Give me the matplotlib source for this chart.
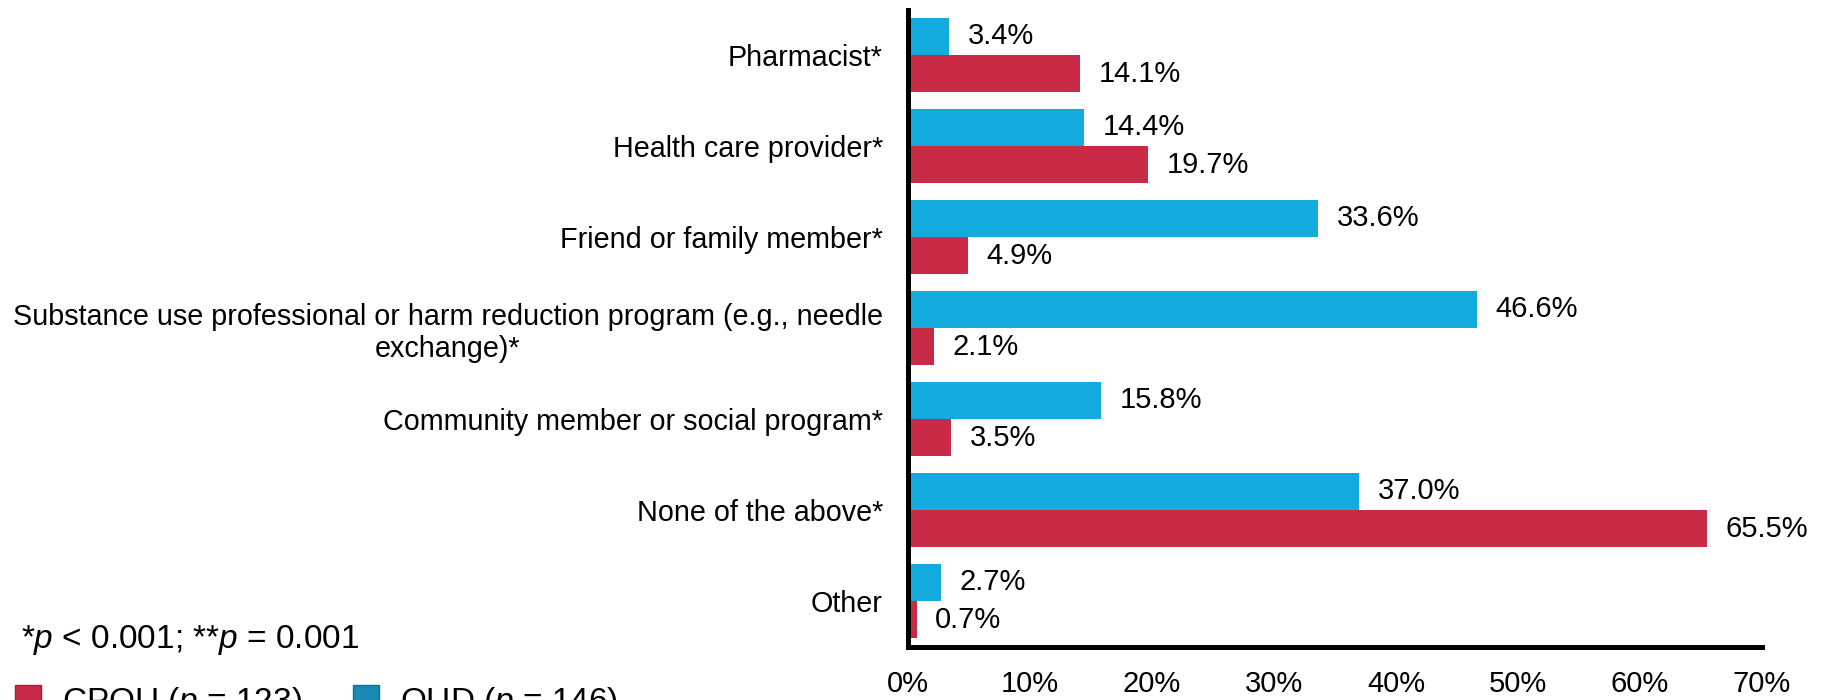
import matplotlib
matplotlib.use("Agg")
import matplotlib.pyplot as plt
import numpy as np
from matplotlib import font_manager
from matplotlib.patches import Rectangle

categories = [
    "Pharmacist*",
    "Health care provider*",
    "Friend or family member*",
    "Substance use professional or harm reduction program (e.g., needle\nexchange)*",
    "Community member or social program*",
    "None of the above*",
    "Other",
]
oud_values = [3.4, 14.4, 33.6, 46.6, 15.8, 37.0, 2.7]
cpou_values = [14.1, 19.7, 4.9, 2.1, 3.5, 65.5, 0.7]
xticks = [0, 10, 20, 30, 40, 50, 60, 70]
xtick_labels = ["0%", "10%", "20%", "30%", "40%", "50%", "60%", "70%"]
legend_labels = ["CPOU ($\\mathit{p}$ = 123)", "OUD ($\\mathit{p}$ = 146)"]
footnote = "*$\\mathit{p}$ < 0.001; **$\\mathit{p}$ = 0.001"

BLUE = "#13aadd"
RED = "#c92b46"

names = {f.name for f in font_manager.fontManager.ttflist}
base = "Liberation Sans" if "Liberation Sans" in names else "DejaVu Sans"
plt.rcParams["font.family"] = [base, "DejaVu Sans"]
plt.rcParams["mathtext.fontset"] = "custom"
plt.rcParams["mathtext.it"] = base + ":italic"
plt.rcParams["mathtext.rm"] = base

W, H = 1822, 700
fig = plt.figure(figsize=(W / 100, H / 100), dpi=100)
x0, x1, ytop, ybot = 908, 1762, 9.5, 646.5
ax = fig.add_axes([x0 / W, 1 - ybot / H, (x1 - x0) / W, (ybot - ytop) / H])

n = len(categories)
y = np.arange(n)
bh = 0.41
ax.barh(y - bh / 2, oud_values, height=bh, color=BLUE, edgecolor="none")
ax.barh(y + bh / 2, cpou_values, height=bh, color=RED, edgecolor="none")

fs = 21
for i, (b, r) in enumerate(zip(oud_values, cpou_values)):
    ax.annotate(f"{b:.1f}%", (b, i - bh / 2), xytext=(13.5, 0), textcoords="offset points",
                va="center", ha="left", fontsize=fs)
    ax.annotate(f"{r:.1f}%", (r, i + bh / 2), xytext=(13.5, 0), textcoords="offset points",
                va="center", ha="left", fontsize=fs)

ax.set_ylim(n - 0.5, -0.5)
ax.set_xlim(0, 70)
ax.set_yticks(y)
ax.set_yticklabels(categories, fontsize=20.7, multialignment="center")
ax.set_xticks(xticks)
ax.set_xticklabels(xtick_labels, fontsize=21)
ax.tick_params(axis="y", length=0, pad=18)
ax.tick_params(axis="x", length=0, pad=17)

for s in ["top", "right"]:
    ax.spines[s].set_visible(False)
for s in ["left", "bottom"]:
    ax.spines[s].set_linewidth(3.6)
    ax.spines[s].set_color("black")
    ax.spines[s].set_capstyle("projecting")

fig.text(21 / W, 1 - 640 / H, footnote, fontsize=24, ha="left", va="center")

# legend (partially cut off at bottom as in the reference)
sq = 26
fig.patches.append(Rectangle((14.5 / W, 1 - (685 + sq) / H), sq / W, sq / H,
                             transform=fig.transFigure, facecolor=RED, edgecolor="#a01f38", lw=1))
fig.text(62 / W, 1 - 702 / H, legend_labels[0], fontsize=24, ha="left", va="center")
fig.patches.append(Rectangle((353 / W, 1 - (685 + sq) / H), sq / W, sq / H,
                             transform=fig.transFigure, facecolor="#1a8ab5", edgecolor="#136f93", lw=1))
fig.text(400 / W, 1 - 702 / H, legend_labels[1], fontsize=24, ha="left", va="center")

fig.savefig("out.png", dpi=100)
